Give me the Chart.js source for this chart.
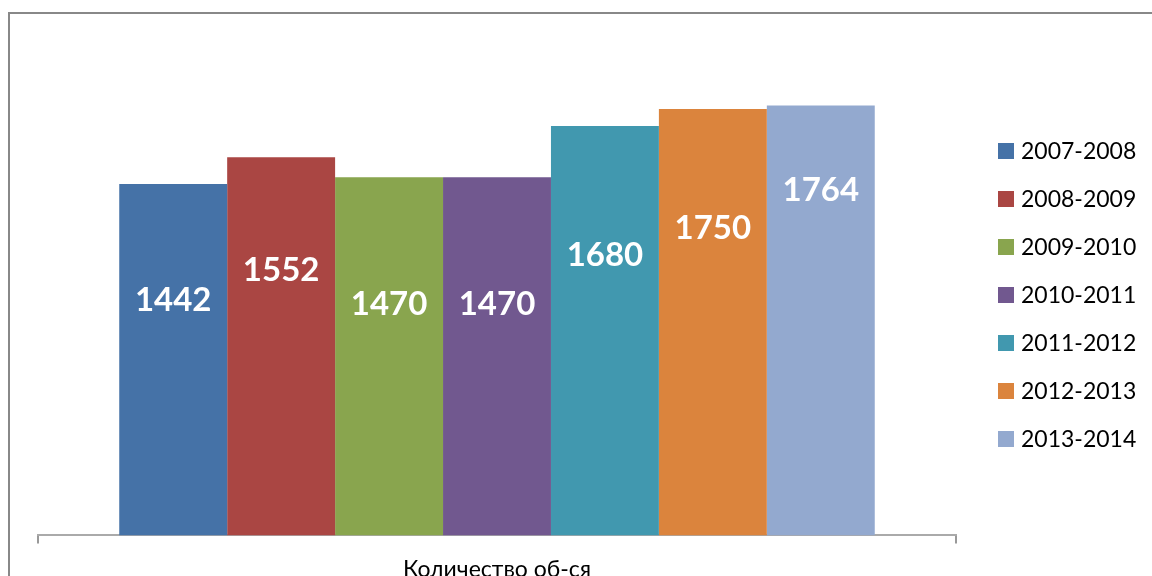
<!DOCTYPE html>
<html lang="ru">
<head>
<meta charset="UTF-8">
<title>Количество об-ся</title>
<script src="https://cdn.jsdelivr.net/npm/chart.js@4/dist/chart.umd.min.js"></script>
<style>
    html, body {
        margin: 0;
        padding: 0;
        background: #ffffff;
        overflow: hidden;
    }
    .wrap {
        position: relative;
        width: 1152px;
        height: 600px;
    }
</style>
</head>
<body>
<div class="wrap">
    <canvas id="chart"></canvas>
</div>
<script>
    // данные
    const categories = ['Количество об-ся'];
    const years = ['2007-2008', '2008-2009', '2009-2010', '2010-2011', '2011-2012', '2012-2013', '2013-2014'];
    const counts = [1442, 1552, 1470, 1470, 1680, 1750, 1764];
    const colors = ['#4572A7', '#AA4643', '#89A54E', '#71588F', '#4198AF', '#DB843D', '#93A9CF'];
    // где подпись внутри столбца (доля высоты сверху)
    const labelAt = [0.33, 0.30, 0.355, 0.355, 0.316, 0.28, 0.197];

    const FONT = 'Lato, "Open Sans", sans-serif';

    // подписи значений на столбцах
    const barLabels = {
        id: 'barLabels',
        afterDatasetsDraw(chart) {
            const ctx = chart.ctx;
            ctx.save();
            ctx.font = 'bold 33px ' + FONT;
            ctx.fillStyle = '#ffffff';
            ctx.textAlign = 'center';
            ctx.textBaseline = 'middle';
            chart.data.datasets.forEach((ds, i) => {
                const bar = chart.getDatasetMeta(i).data[0];
                const y = bar.y + (bar.base - bar.y) * labelAt[i];
                ctx.fillText(ds.data[0], bar.x, y);
            });
            ctx.restore();
        }
    };

    // легенда справа и рамка
    const sideLegend = {
        id: 'sideLegend',
        afterDraw(chart) {
            const ctx = chart.ctx;
            ctx.save();
            ctx.font = '23px ' + FONT;
            ctx.textBaseline = 'middle';
            ctx.textAlign = 'left';
            chart.data.datasets.forEach((ds, i) => {
                const y = 151 + i * 48;
                ctx.fillStyle = ds.backgroundColor;
                ctx.fillRect(998, y - 8, 16, 16);
                ctx.fillStyle = '#000000';
                ctx.fillText(ds.label, 1021, y + 1);
            });
            // рамка диаграммы
            ctx.strokeStyle = '#888888';
            ctx.lineWidth = 2;
            ctx.beginPath();
            ctx.moveTo(9, 620);
            ctx.lineTo(9, 13);
            ctx.lineTo(1160, 13);
            ctx.stroke();
            ctx.restore();
        }
    };

    const ctx = document.getElementById('chart').getContext('2d');
    new Chart(ctx, {
        type: 'bar',
        data: {
            labels: categories,
            datasets: years.map((y, i) => ({
                label: y,
                data: [counts[i]],
                backgroundColor: colors[i],
                borderWidth: 0
            }))
        },
        options: {
            responsive: true,
            maintainAspectRatio: false,
            animation: false,
            layout: {
                padding: { left: 38, right: 196, top: 48, bottom: 5 }
            },
            datasets: {
                bar: {
                    barPercentage: 1,
                    categoryPercentage: 0.823
                }
            },
            scales: {
                y: {
                    display: false,
                    min: 0,
                    max: 2000
                },
                x: {
                    grid: {
                        drawOnChartArea: false,
                        drawTicks: true,
                        tickLength: 8,
                        color: '#999999',
                        lineWidth: 2
                    },
                    border: {
                        color: '#aaaaaa',
                        width: 2
                    },
                    ticks: {
                        color: '#000000',
                        padding: 12,
                        font: { family: FONT, size: 23 }
                    }
                }
            },
            plugins: {
                legend: { display: false },
                tooltip: { enabled: false }
            }
        },
        plugins: [barLabels, sideLegend]
    });
</script>
</body>
</html>
